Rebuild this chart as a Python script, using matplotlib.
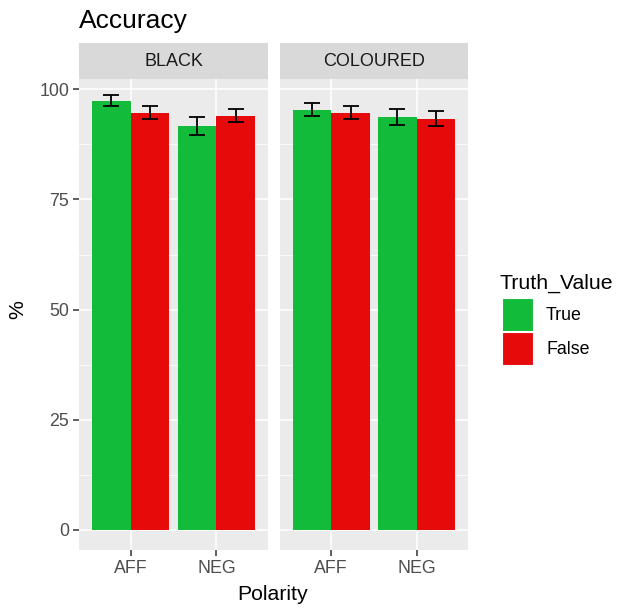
import numpy as np
import matplotlib.pyplot as plt
from matplotlib.patches import Rectangle

plt.rcParams['font.family'] = ['Liberation Sans', 'DejaVu Sans']

# data
panels = ['BLACK', 'COLOURED']
polarity = ['AFF', 'NEG']
truth = ['True', 'False']
acc_true = {'BLACK': [97.4, 91.7], 'COLOURED': [95.4, 93.7]}
acc_false = {'BLACK': [94.7, 94.0], 'COLOURED': [94.7, 93.3]}
err_true = {'BLACK': [1.2, 2.1], 'COLOURED': [1.4, 1.8]}
err_false = {'BLACK': [1.4, 1.5], 'COLOURED': [1.4, 1.7]}

green = '#13BB3A'
red = '#E60A0B'
grey_txt = '#4D4D4D'

W, H = 617, 609
fig = plt.figure(figsize=(W / 100, H / 100), dpi=100)


def px(x0, y0, x1, y1):
    return [x0 / W, 1 - y1 / H, (x1 - x0) / W, (y1 - y0) / H]


panel_x = [(79, 268), (280, 468)]
x = np.arange(len(polarity)) + 1
bw = 0.45

for k, (name, (xa, xb)) in enumerate(zip(panels, panel_x)):
    ax = fig.add_axes(px(xa, 79, xb, 550))
    ax.set_facecolor('#EBEBEB')
    for s in ax.spines.values():
        s.set_visible(False)
    ax.set_xlim(0.4, 2.6)
    ax.set_ylim(-4.54, 102.34)
    ax.set_yticks([0, 25, 50, 75, 100])
    ax.set_yticks([12.5, 37.5, 62.5, 87.5], minor=True)
    ax.set_xticks(x)
    ax.set_xticklabels(polarity)
    ax.grid(which='major', color='white', lw=1.1)
    ax.grid(which='minor', axis='y', color='white', lw=0.55)
    ax.set_axisbelow(True)
    ax.tick_params(which='major', length=4, width=1.1, color='#333333',
                   labelcolor=grey_txt, labelsize=12.8, pad=3)
    ax.tick_params(which='minor', length=0)
    if k > 0:
        ax.tick_params(axis='y', left=False, labelleft=False)

    ax.bar(x - bw / 2, acc_true[name], bw, color=green)
    ax.bar(x + bw / 2, acc_false[name], bw, color=red)
    ax.errorbar(x - bw / 2, acc_true[name], yerr=err_true[name], fmt='none',
                ecolor='black', elinewidth=1.3, capsize=5.8, capthick=1.3)
    ax.errorbar(x + bw / 2, acc_false[name], yerr=err_false[name], fmt='none',
                ecolor='black', elinewidth=1.3, capsize=5.8, capthick=1.3)

    sx = fig.add_axes(px(xa, 43, xb, 79))
    sx.set_facecolor('#D9D9D9')
    sx.set_xticks([])
    sx.set_yticks([])
    for s in sx.spines.values():
        s.set_visible(False)
    sx.text(0.5, 0.5, name, ha='center', va='center', color='#1A1A1A',
            fontsize=13, transform=sx.transAxes)

fig.text(79 / W, 1 - 28 / H, 'Accuracy', fontsize=19, ha='left',
         va='baseline')
fig.text(18 / W, 1 - 310 / H, '%', fontsize=15.3, rotation=90, ha='center',
         va='center')
fig.text(273 / W, 1 - 594 / H, 'Polarity', fontsize=15.3, ha='center',
         va='center')

# legend
fig.text(500 / W, 1 - 283 / H, 'Truth_Value', fontsize=15.3, ha='left',
         va='center')
for i, (lab, col) in enumerate(zip(truth, [green, red])):
    y0 = 298 + i * 34
    fig.patches.append(Rectangle((502 / W, 1 - (y0 + 33) / H), 31 / W,
                                 33 / H, transform=fig.transFigure,
                                 facecolor=col, edgecolor='white', lw=0.8))
    fig.text(546 / W, 1 - (y0 + 17) / H, lab, fontsize=12.8, ha='left',
             va='center')

fig.savefig('out.png', dpi=100)
